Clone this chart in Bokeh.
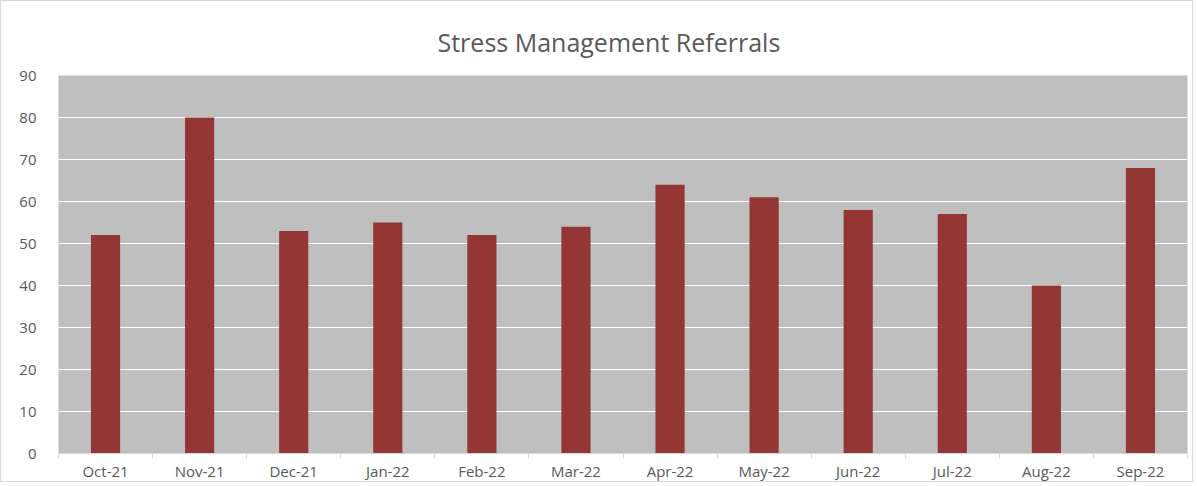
from bokeh.plotting import figure
from bokeh.models import FixedTicker, Range1d
from bokeh.embed import file_html
from bokeh.resources import INLINE

months = ["Oct-21", "Nov-21", "Dec-21", "Jan-22", "Feb-22", "Mar-22",
          "Apr-22", "May-22", "Jun-22", "Jul-22", "Aug-22", "Sep-22"]
referrals = [52, 80, 53, 55, 52, 54, 64, 61, 58, 57, 40, 68]
y_ticks = [0, 10, 20, 30, 40, 50, 60, 70, 80, 90]

idx = list(range(len(months)))

p = figure(width=1193, height=482, output_backend="svg", toolbar_location=None,
           x_range=Range1d(-0.5, len(months) - 0.5), y_range=Range1d(0, 90),
           title="Stress Management Referrals")
p.styles = {"border": "1px solid #d9d9d9"}
p.min_border_left = 57
p.min_border_right = 7
p.min_border_top = 74
p.min_border_bottom = 28

p.title.align = "left"
p.title.offset = 379
p.title.text_font = "Open Sans"
p.title.text_font_size = "25px"
p.title.text_font_style = "normal"
p.title.text_color = "#595959"
p.title.standoff = 33

p.background_fill_color = "#BFBFBF"
p.border_fill_color = "white"
p.outline_line_color = None

p.vbar(x=idx, top=referrals, width=0.31, fill_color="#943634", line_color=None)

p.xgrid.grid_line_color = None
p.ygrid.grid_line_color = "white"
p.ygrid.grid_line_width = 1
p.ygrid.ticker = FixedTicker(ticks=y_ticks)

p.xaxis.ticker = FixedTicker(ticks=idx, minor_ticks=[i - 0.5 for i in range(len(months) + 1)])
p.xaxis.major_label_overrides = {i: m for i, m in zip(idx, months)}
p.xaxis.major_tick_out = 0
p.xaxis.major_tick_in = 0
p.xaxis.minor_tick_out = 5
p.xaxis.minor_tick_in = 0
p.xaxis.minor_tick_line_color = "#d9d9d9"
p.xaxis.axis_line_color = "#d9d9d9"
p.xaxis.major_label_standoff = 2
p.xaxis.major_label_text_font = "Open Sans"
p.xaxis.major_label_text_font_size = "15px"
p.xaxis.major_label_text_color = "#595959"

p.yaxis.ticker = FixedTicker(ticks=y_ticks)
p.yaxis.axis_line_color = None
p.yaxis.major_tick_line_color = None
p.yaxis.minor_tick_line_color = None
p.yaxis.major_label_standoff = 16
p.yaxis.major_label_text_font = "Open Sans"
p.yaxis.major_label_text_font_size = "15px"
p.yaxis.major_label_text_color = "#595959"

open("out.html", "w").write(file_html(p, INLINE))
